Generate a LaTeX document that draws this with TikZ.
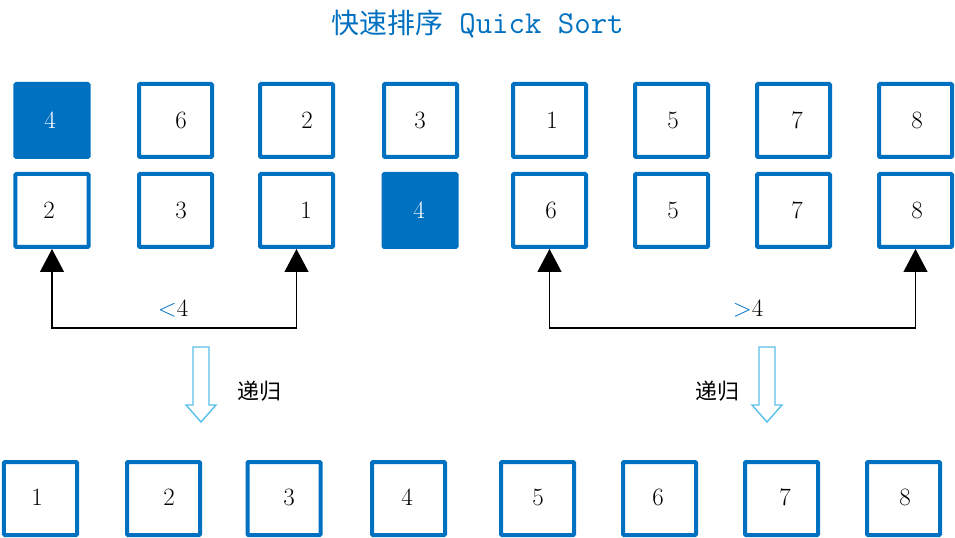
\documentclass[tikz,border=0pt]{standalone}
\usepackage{fontspec}
\newfontfamily\cjk{Noto Sans CJK SC}
\usetikzlibrary{arrows.meta}
\definecolor{boxblue}{RGB}{0,112,192}
\definecolor{hollowblue}{RGB}{90,192,235}
\tikzset{
  x=1bp, y=-1bp,
  cell/.style={draw=boxblue, line width=4bp, minimum size=73bp, inner sep=0pt, rounded corners=1bp},
  filled/.style={cell, fill=boxblue},
  num/.style={font=\fontsize{25}{27}\selectfont, inner sep=0pt},
  wnum/.style={num, text=white},
  conn/.style={line width=1.2bp, {Triangle[width=24bp,length=23bp]}-{Triangle[width=24bp,length=23bp]}},
  lbl/.style={font=\fontsize{25}{27}\selectfont, inner sep=0pt},
  hollow/.style={draw=hollowblue, line width=1.4bp, fill=white},
  cjklbl/.style={font=\cjk\fontsize{22}{24}\selectfont, inner sep=0pt}
}
\begin{document}
\begin{tikzpicture}
\useasboundingbox (0,0) rectangle (955,538);
% title
\node[text=boxblue, inner sep=0pt] (title) at (477.5,24) {\cjk\fontsize{28}{30}\selectfont 快速排序\ttfamily\fontsize{32}{34}\selectfont{} Quick Sort};
% row 1
\node[filled] (b11) at (52,120.5) {};
\node[cell] (b12) at (175.5,120.5) {};
\node[cell] (b13) at (296.5,120.5) {};
\node[cell] (b14) at (420.5,120.5) {};
\node[cell] (b15) at (549.5,120.5) {};
\node[cell] (b16) at (671.5,120.5) {};
\node[cell] (b17) at (793.5,120.5) {};
\node[cell] (b18) at (915.5,120.5) {};
\node[wnum] (n11) at (50,120) {4};
\node[num] (n12) at (181,120) {6};
\node[num] (n13) at (307,120) {2};
\node[num] (n14) at (420,120) {3};
\node[num] (n15) at (552,120) {1};
\node[num] (n16) at (673,120) {5};
\node[num] (n17) at (797,120) {7};
\node[num] (n18) at (917,120) {8};
% row 2
\node[cell] (b21) at (52,210.5) {};
\node[cell] (b22) at (175.5,210.5) {};
\node[cell] (b23) at (296.5,210.5) {};
\node[filled] (b24) at (420,210.5) {};
\node[cell] (b25) at (549.5,210.5) {};
\node[cell] (b26) at (671.5,210.5) {};
\node[cell] (b27) at (793.5,210.5) {};
\node[cell] (b28) at (915.5,210.5) {};
\node[num] (n21) at (49,210) {2};
\node[num] (n22) at (181,210) {3};
\node[num] (n23) at (306,210) {1};
\node[wnum] (n24) at (419,210) {4};
\node[num] (n25) at (551,210) {6};
\node[num] (n26) at (673,210) {5};
\node[num] (n27) at (797,210) {7};
\node[num] (n28) at (917,210) {8};
% row 3
\node[cell] (b31) at (40.5,498.5) {};
\node[cell] (b32) at (163.5,498.5) {};
\node[cell] (b33) at (284,498.5) {};
\node[cell] (b34) at (408.5,498.5) {};
\node[cell] (b35) at (537.5,498.5) {};
\node[cell] (b36) at (659.5,498.5) {};
\node[cell] (b37) at (781.5,498.5) {};
\node[cell] (b38) at (903.5,498.5) {};
\node[num] (n31) at (37,497) {1};
\node[num] (n32) at (169,497) {2};
\node[num] (n33) at (289,497) {3};
\node[num] (n34) at (407,497) {4};
\node[num] (n35) at (538,497) {5};
\node[num] (n36) at (658,497) {6};
\node[num] (n37) at (785,497) {7};
\node[num] (n38) at (905,497) {8};
% connectors
\draw[conn] (b21.south) -- ++(0,79) -| (b23.south);
\draw[conn] (b25.south) -- ++(0,79) -| (b28.south);
\node[lbl] (lt) at (173,309) {\textcolor{boxblue}{<}4};
\node[lbl] (gt) at (748,309) {\textcolor{boxblue}{>}4};
% hollow arrows
\draw[hollow] (193,347) -- (209,347) -- (209,405) -- (216,405) -- (201,422) -- (186,405) -- (193,405) -- cycle;
\draw[hollow] (759,347) -- (775,347) -- (775,405) -- (782,405) -- (767,422) -- (752,405) -- (759,405) -- cycle;
\node[cjklbl] (r1) at (259,391) {递归};
\node[cjklbl] (r2) at (717,391) {递归};
\end{tikzpicture}
\end{document}
